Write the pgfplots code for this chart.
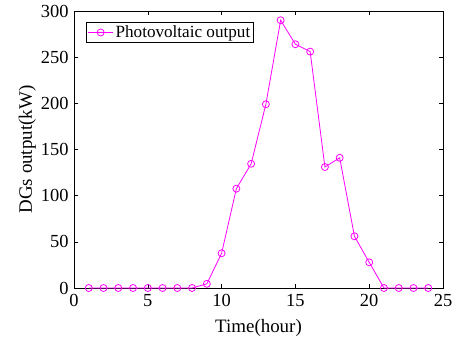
\documentclass[border=0pt]{standalone}
\usepackage{pgfplots}
\pgfplotsset{compat=1.18}
\usepackage{fontspec}
\setmainfont{Liberation Serif}
\begin{document}
\begin{tikzpicture}
\begin{axis}[
  at={(0,0)}, anchor=south west,
  scale only axis, width=369bp, height=277bp,
  xmin=0, xmax=25, ymin=0, ymax=300,
  xtick={0,5,...,25}, ytick={0,50,...,300},
  tick align=inside, major tick length=4bp,
  tick style={black, line width=0.6pt},
  axis line style={black, line width=0.6pt},
  /pgf/number format/assume math mode=true,
  tick label style={font=\fontsize{18.5}{20}\selectfont},
  xticklabel style={yshift=-3bp},
  yticklabel style={xshift=-2bp},
  label style={font=\fontsize{19}{21}\selectfont},
  xlabel={Time(hour)}, ylabel={DGs output(kW)},
  xlabel style={yshift=-6bp},
  ylabel style={yshift=-2bp},
  legend style={at={(12bp,266bp)}, anchor=north west, draw=black, line width=0.6pt,
    font=\fontsize{17.2}{18}\selectfont, inner sep=1.5bp, row sep=0pt},
  legend cell align=left,
  legend image code/.code={\draw[mark repeat=2,mark phase=2,#1] plot coordinates {(0bp,0bp) (12.5bp,0bp) (25bp,0bp)};},
]
\addplot[color={rgb,255:red,255;green,0;blue,255}, line width=0.8pt, mark=o, mark size=3.5bp, mark options={solid}]
coordinates {
(1,0)(2,0)(3,0)(4,0)(5,0)(6,0)(7,0)(8,0)(9,4.5)(10,37.6)(11,107.6)(12,134.5)
(13,199)(14,290)(15,264)(16,256)(17,131)(18,141)(19,56)(20,27.8)(21,0)(22,0)(23,0)(24,0)
};
\addlegendentry{Photovoltaic output}
\end{axis}
\pgfresetboundingbox
\useasboundingbox (-74bp,-57bp) rectangle (381bp,288bp);
\end{tikzpicture}
\end{document}
